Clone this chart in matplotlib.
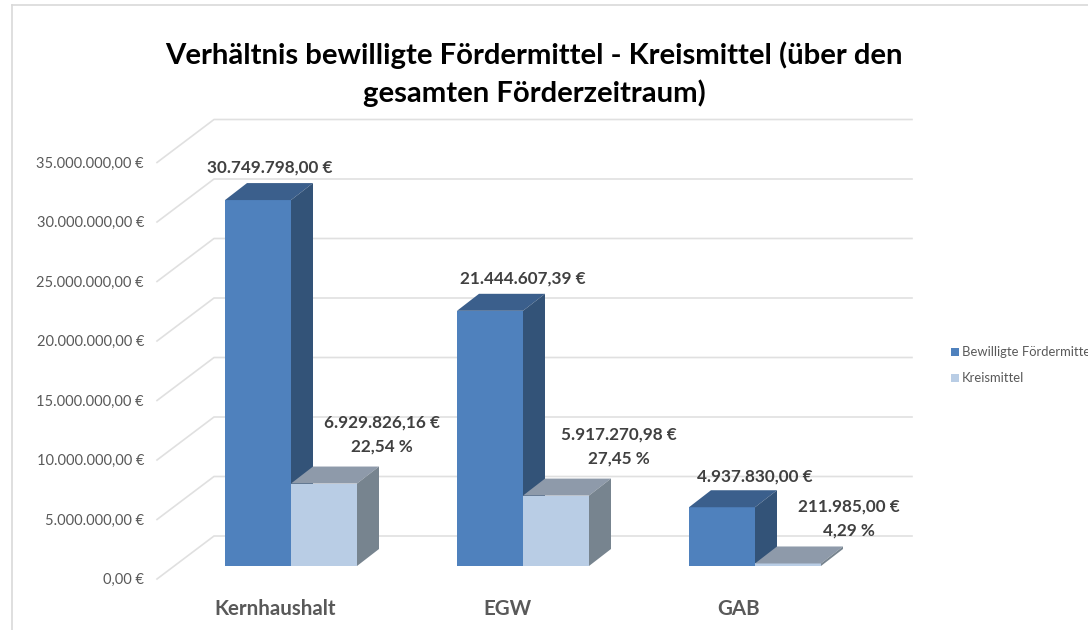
"""
Verhaeltnis bewilligte Foerdermittel - Kreismittel, drawn as a faux 3D bar chart.
"""

import matplotlib
matplotlib.use('Agg')
import matplotlib.pyplot as plt
from matplotlib.patches import Polygon, Rectangle

categories = ['Kernhaushalt', 'EGW', 'GAB']
foerdermittel = [30749798.00, 21444607.39, 4937830.00]
kreismittel = [6929826.16, 5917270.98, 211985.00]
anteil = [22.54, 27.45, 4.29]
y_ticks = [0, 5e6, 10e6, 15e6, 20e6, 25e6, 30e6, 35e6]
series_names = ['Bewilligte Fördermittel', 'Kreismittel']

# Pixel layout of the picture
WIDTH, HEIGHT = 1088, 630
PX_X = 232.0         # pixels per category
PX_Y = 11.9 / 1e6    # pixels per euro
X0, Y0 = 291, 566    # pixel position of category 0 on the bar baseline
BAR_W = 66 / PX_X
DEPTH_X = 22 / PX_X
DEPTH_Y = 17 / PX_Y
WALL_Y = 30 / PX_Y
FLOOR_Y = -13 / PX_Y

plt.rcParams['font.family'] = ['Lato', 'DejaVu Sans']


def euro(value):
    text = f'{value:,.2f}'.replace(',', 'x').replace('.', ',').replace('x', '.')
    return text + ' €'


def draw_bar(ax, left, value, front, top, side):
    right = left + BAR_W
    ax.add_patch(Rectangle((left, 0), BAR_W, value, fc=front, ec='none', zorder=3))
    ax.add_patch(Polygon([(left, value), (right, value),
                          (right + DEPTH_X, value + DEPTH_Y), (left + DEPTH_X, value + DEPTH_Y)],
                         fc=top, ec='none', zorder=3))
    ax.add_patch(Polygon([(right, 0), (right + DEPTH_X, DEPTH_Y),
                          (right + DEPTH_X, value + DEPTH_Y), (right, value)],
                         fc=side, ec='none', zorder=3))


fig = plt.figure(figsize=(WIDTH / 100, HEIGHT / 100), dpi=100)
ax = fig.add_axes([0, 0, 1, 1])
ax.set_xlim(-X0 / PX_X, (WIDTH - X0) / PX_X)
ax.set_ylim((Y0 - HEIGHT) / PX_Y, Y0 / PX_Y)
ax.axis('off')

# Outer frame of the chart object
frame = '#d9d9d9'
ax.plot([(12 - X0) / PX_X, (12 - X0) / PX_X], [(Y0 - 630) / PX_Y, (Y0 - 5) / PX_Y], color=frame, lw=1.2)
ax.plot([(12 - X0) / PX_X, (1088 - X0) / PX_X], [(Y0 - 5) / PX_Y, (Y0 - 5) / PX_Y], color=frame, lw=1.2)

# Gridlines on the wall and the floor
wall_end = (912 - X0) / PX_X
for tick in y_ticks:
    ax.plot([(157 - X0) / PX_X, (214 - X0) / PX_X, wall_end],
            [tick + FLOOR_Y, tick + WALL_Y, tick + WALL_Y],
            color='#e0e0e0', lw=1.2, zorder=1)
    ax.text((144 - X0) / PX_X, tick + FLOOR_Y - 1 / PX_Y, euro(tick), ha='right', va='center',
            fontsize=10.5, color='#595959')

# Bars, the light one goes in front of the dark side of the blue one
for i in range(len(categories)):
    draw_bar(ax, i - BAR_W, foerdermittel[i], '#4f81bd', '#3b5f8c', '#335378')
    draw_bar(ax, i, kreismittel[i], '#b9cde5', '#8e9aaa', '#77848f')

# Value labels
offset_a = [(12, 33), (33, 32), (33, 31)]
offset_b = [(58, 49), (63, 49), (61, 45)]
for i, name in enumerate(categories):
    ax.annotate(euro(foerdermittel[i]), (i - BAR_W / 2, foerdermittel[i]),
                xytext=offset_a[i], textcoords='offset pixels', ha='center', va='center',
                fontsize=12.3, fontweight='bold', color='#404040', zorder=5)
    ax.annotate(euro(kreismittel[i]) + '\n' + f'{anteil[i]:.2f} %'.replace('.', ','),
                (i + BAR_W / 2, kreismittel[i]),
                xytext=offset_b[i], textcoords='offset pixels', ha='center', va='center',
                fontsize=12.3, fontweight='bold', color='#404040', linespacing=1.6, zorder=5)
    ax.text(i - 16 / PX_X, (Y0 - 609) / PX_Y, name, ha='center', va='center',
            fontsize=14.8, fontweight='bold', color='#595959')

# Title
ax.text((534 - X0) / PX_X, (Y0 - 74) / PX_Y,
        'Verhältnis bewilligte Fördermittel - Kreismittel (über den\ngesamten Förderzeitraum)',
        ha='center', va='center', fontsize=21.1, fontweight='bold', color='black', linespacing=1.45)

# Legend, the long entry runs off the right edge like in the original
colors = ['#4f81bd', '#b9cde5']
legend_y = [352, 378]
for name, color, y in zip(series_names, colors, legend_y):
    ax.add_patch(Rectangle(((951 - X0) / PX_X, (Y0 - y - 4) / PX_Y), 8 / PX_X, 8 / PX_Y, fc=color, ec='none'))
    ax.text((962 - X0) / PX_X, (Y0 - y) / PX_Y, name, ha='left', va='center',
            fontsize=9.4, color='#595959', clip_on=True)

fig.savefig('out.png', dpi=100)
plt.close(fig)
